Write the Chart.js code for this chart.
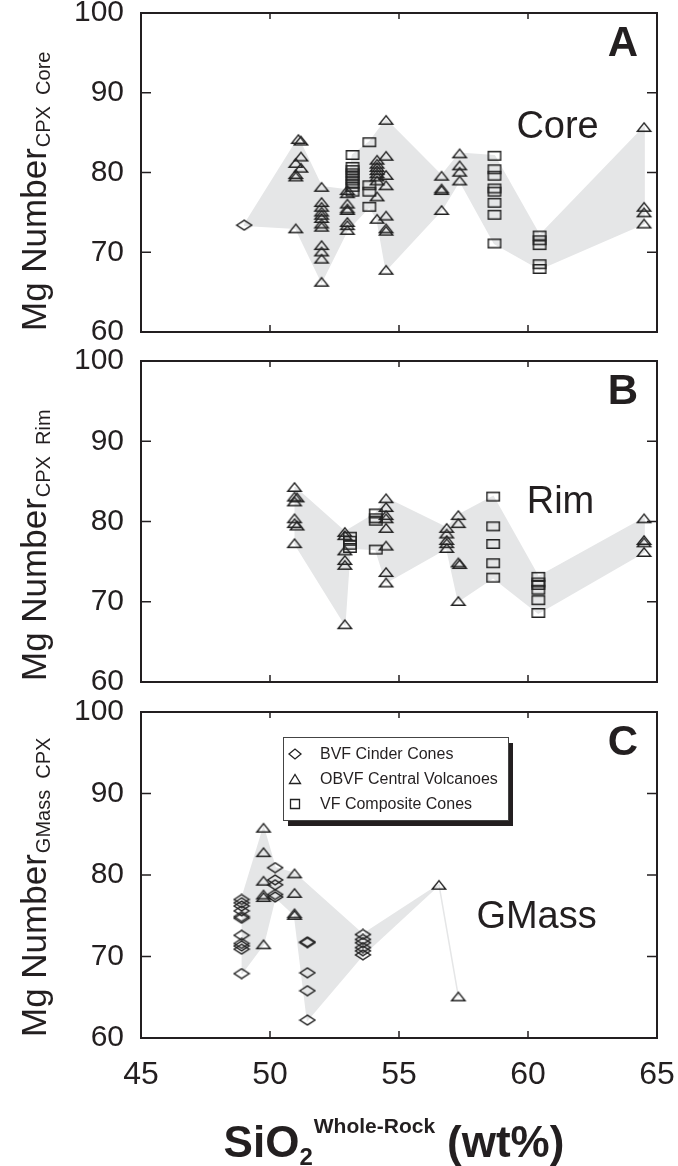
<!DOCTYPE html>
<html>
<head>
<meta charset="utf-8">
<script src="https://cdn.jsdelivr.net/npm/chart.js@4.4.0/dist/chart.umd.min.js"></script>
<style>
  html, body { margin: 0; padding: 0; background: #fff; }
  #wrap { position: relative; width: 678px; height: 1166px; }
  canvas { position: absolute; left: 0; }
</style>
</head>
<body>
<div id="wrap">
  <canvas id="cvA" width="678" height="347" style="top:0px"></canvas>
  <canvas id="cvB" width="678" height="350" style="top:347px"></canvas>
  <canvas id="cvC" width="678" height="469" style="top:697px"></canvas>
</div>
<script>
// ---- data (x = SiO2 wt%, y = Mg number) ----
var seriesLabels = ['BVF Cinder Cones', 'OBVF Central Volcanoes', 'VF Composite Cones'];
var xTicks = [45, 50, 55, 60, 65];
var yTicks = [60, 70, 80, 90, 100];

// panel A, core
var coreBVF = [[49.0, 73.4]];
var coreOBVF = [
  [51.1, 84.2], [51.2, 84.0], [51.2, 82.0], [51.0, 81.2], [51.2, 80.6], [51.0, 79.8], [51.0, 79.5], [51.0, 73.0],
  [52.0, 78.2], [52.0, 76.3], [52.0, 75.7], [52.0, 75.1], [52.0, 74.7], [52.0, 74.3], [52.0, 73.6], [52.0, 73.2],
  [52.0, 70.9], [52.0, 70.1], [52.0, 69.2], [52.0, 66.3],
  [53.0, 77.8], [53.0, 77.4], [53.0, 76.1], [53.0, 75.5], [53.0, 75.3], [53.0, 73.8], [53.0, 73.4], [53.0, 72.8],
  [54.15, 81.6], [54.15, 81.1], [54.15, 80.7], [54.15, 80.3], [54.15, 79.9], [54.15, 79.5], [54.15, 79.0],
  [54.15, 77.0], [54.15, 74.2],
  [54.5, 86.6], [54.5, 82.1], [54.5, 79.7], [54.5, 78.4], [54.5, 74.6], [54.5, 73.0], [54.5, 72.7], [54.5, 67.8],
  [56.65, 79.6], [56.65, 78.0], [56.65, 77.8], [56.65, 75.3],
  [57.35, 82.4], [57.35, 80.9], [57.35, 80.1], [57.35, 79.0],
  [64.5, 85.7], [64.5, 75.7], [64.5, 75.0], [64.5, 73.6]
];
var coreVF = [
  [53.2, 82.2], [53.2, 80.7], [53.2, 80.3], [53.2, 79.9], [53.2, 79.5], [53.2, 79.0], [53.2, 78.6], [53.2, 78.2], [53.2, 77.6],
  [53.85, 83.8], [53.85, 78.4], [53.85, 77.6], [53.85, 75.7],
  [58.7, 82.1], [58.7, 80.4], [58.7, 79.6], [58.7, 78.0], [58.7, 77.6], [58.7, 76.2], [58.7, 74.7], [58.7, 71.1],
  [60.45, 72.1], [60.45, 71.5], [60.45, 70.9], [60.45, 68.5], [60.45, 67.9]
];
var coreTop = [[49.0, 73.4], [51.1, 84.3], [52.0, 78.2], [53.0, 77.8], [53.2, 82.2], [53.85, 83.8], [54.5, 86.6],
  [56.65, 79.6], [57.35, 82.4], [58.7, 82.1], [60.45, 72.1], [64.5, 85.7]];
var coreBottom = [[49.0, 73.4], [51.0, 73.0], [52.0, 66.3], [53.0, 72.8], [53.85, 75.7], [54.15, 74.2], [54.5, 67.8],
  [56.65, 75.3], [57.35, 79.0], [58.7, 71.1], [60.45, 67.9], [64.5, 73.6]];

// panel B, rim
var rimBVF = [];
var rimOBVF = [
  [50.95, 84.3], [50.95, 83.1], [51.05, 83.0], [50.95, 82.5], [50.95, 80.4], [50.95, 79.8], [51.05, 79.5], [50.95, 77.3],
  [52.9, 78.7], [52.9, 78.3], [52.9, 76.4], [52.9, 75.2], [52.9, 74.6], [52.9, 67.2],
  [54.5, 82.9], [54.5, 81.8], [54.5, 80.8], [54.5, 80.4], [54.5, 79.2], [54.5, 77.0], [54.5, 73.7], [54.5, 72.4],
  [56.85, 79.2], [56.85, 78.5], [56.85, 77.7], [56.85, 77.3], [56.85, 76.7],
  [57.3, 80.8], [57.3, 79.8], [57.3, 74.9], [57.35, 74.7], [57.3, 70.1],
  [64.5, 80.4], [64.5, 77.7], [64.5, 77.4], [64.5, 76.2]
];
var rimVF = [
  [53.1, 78.1], [53.1, 77.6], [53.1, 77.1], [53.1, 76.7],
  [54.1, 81.0], [54.1, 80.4], [54.1, 80.1], [54.1, 76.5],
  [58.65, 83.1], [58.65, 79.4], [58.65, 77.2], [58.65, 74.8], [58.65, 73.0],
  [60.4, 73.1], [60.4, 72.4], [60.4, 72.1], [60.4, 71.5], [60.4, 70.2], [60.4, 68.6]
];
var rimTop = [[50.95, 84.3], [52.9, 78.7], [54.1, 81.0], [54.5, 82.9], [56.85, 79.2], [57.3, 80.8], [58.65, 83.1],
  [60.4, 73.1], [64.5, 80.4]];
var rimBottom = [[50.95, 77.3], [52.9, 67.2], [53.1, 76.7], [54.1, 76.5], [54.5, 72.4], [56.85, 76.7], [57.3, 70.1],
  [58.65, 73.0], [60.4, 68.6], [64.5, 76.2]];

// panel C, groundmass
var gmBVF = [
  [48.9, 77.0], [48.9, 76.6], [48.9, 76.2], [48.9, 75.6], [48.9, 74.9], [48.9, 74.7], [48.9, 72.6], [48.9, 71.6],
  [48.9, 71.3], [48.9, 70.9], [48.9, 67.9],
  [50.2, 80.9], [50.2, 79.4], [50.2, 78.8], [50.2, 77.6], [50.2, 77.3],
  [51.45, 71.8], [51.45, 71.7], [51.45, 68.0], [51.45, 65.8], [51.45, 62.2],
  [53.6, 72.7], [53.6, 72.1], [53.6, 71.7], [53.6, 71.1], [53.6, 70.7], [53.6, 70.2]
];
var gmOBVF = [
  [49.75, 85.8], [49.75, 82.8], [49.75, 79.3], [49.75, 77.6], [49.75, 77.3], [49.75, 71.5],
  [50.95, 80.2], [50.95, 77.8], [50.95, 75.3], [50.95, 75.1],
  [56.55, 78.8], [57.3, 65.1]
];
var gmVF = [];
var gmTop = [[48.9, 77.0], [49.75, 85.8], [50.2, 80.9], [50.95, 80.2], [53.6, 72.7], [56.55, 78.8], [57.3, 65.1]];
var gmBottom = [[48.9, 67.9], [49.75, 71.5], [50.2, 77.3], [50.95, 75.1], [51.45, 62.2], [53.6, 70.2],
  [56.55, 78.8], [57.3, 65.1]];

// ---- styling ----
var FONT = '"Liberation Sans", Arial, Helvetica, sans-serif';
var INK = '#231f20';
var SHADE = '#e5e6e7';

function toXY(arr) {
  return arr.map(function (p) { return { x: p[0], y: p[1] }; });
}

// open markers as small canvases (flattened like the original)
function shapePath(g, kind, cx, cy, s) {
  g.beginPath();
  if (kind === 'diamond') {
    g.moveTo(cx - 7.5 * s, cy); g.lineTo(cx, cy - 4.8 * s); g.lineTo(cx + 7.5 * s, cy); g.lineTo(cx, cy + 4.8 * s);
  } else if (kind === 'triangle') {
    g.moveTo(cx - 6.7 * s, cy + 4.2 * s); g.lineTo(cx, cy - 4.2 * s); g.lineTo(cx + 6.7 * s, cy + 4.2 * s);
  } else {
    g.rect(cx - 6.2 * s, cy - 4.2 * s, 12.4 * s, 8.4 * s);
  }
  g.closePath();
}
function makeMarker(kind) {
  var c = document.createElement('canvas');
  c.width = 18; c.height = 12;
  var g = c.getContext('2d');
  g.strokeStyle = '#222';
  g.lineWidth = 1.4;
  shapePath(g, kind, 9, 6, 1);
  g.stroke();
  return c;
}
var markerKinds = ['diamond', 'triangle', 'square'];
var markers = markerKinds.map(makeMarker);

function makePanel(id, cfg) {
  var deco = {
    id: 'deco',
    afterDatasetsDraw: function (chart) {
      var ctx = chart.ctx, a = chart.chartArea;
      var xs = chart.scales.x, ys = chart.scales.y;
      ctx.save();
      // frame with inward ticks
      ctx.strokeStyle = INK;
      ctx.lineWidth = 2;
      ctx.strokeRect(a.left, a.top, a.right - a.left, a.bottom - a.top);
      ctx.lineWidth = 1.5;
      ctx.beginPath();
      xs.ticks.forEach(function (t) {
        var px = xs.getPixelForValue(t.value);
        ctx.moveTo(px, a.top); ctx.lineTo(px, a.top + 6);
        ctx.moveTo(px, a.bottom); ctx.lineTo(px, a.bottom - 7);
      });
      ys.ticks.forEach(function (t) {
        var py = ys.getPixelForValue(t.value);
        ctx.moveTo(a.left, py); ctx.lineTo(a.left + 10, py);
        ctx.moveTo(a.right, py); ctx.lineTo(a.right - 10, py);
      });
      ctx.stroke();

      ctx.fillStyle = INK;
      // panel letter
      ctx.font = 'bold 42px ' + FONT;
      ctx.textAlign = 'right';
      ctx.textBaseline = 'alphabetic';
      ctx.fillText(cfg.letter, a.right - 19, a.top + 43);
      // panel name
      ctx.font = '38px ' + FONT;
      ctx.textAlign = 'left';
      ctx.fillText(cfg.name, xs.getPixelForValue(cfg.namePos[0]), ys.getPixelForValue(cfg.namePos[1]));

      // y title with subscript, rotated
      ctx.save();
      ctx.translate(46, a.bottom - 1);
      ctx.rotate(-Math.PI / 2);
      ctx.font = '35px ' + FONT;
      ctx.fillText('Mg Number', 0, 0);
      var w = ctx.measureText('Mg Number').width;
      ctx.font = '20px ' + FONT;
      ctx.fillText(cfg.sub, w + 1, 4);
      ctx.restore();

      if (cfg.legend) drawLegend(ctx, a);
      if (cfg.xTitle) drawXTitle(ctx, a);
      ctx.restore();
    }
  };

  var datasets = cfg.series.map(function (s, i) {
    return {
      label: seriesLabels[i],
      data: toXY(s),
      pointStyle: markers[i],
      pointRadius: 4,
      showLine: false
    };
  });
  // shaded envelope drawn underneath everything (last dataset)
  datasets.push({
    type: 'line',
    label: 'envelope',
    data: toXY(cfg.top.concat(cfg.bottom.slice().reverse())),
    fill: 'shape',
    backgroundColor: SHADE,
    borderColor: SHADE,
    borderWidth: 1.5,
    pointRadius: 0,
    tension: 0
  });

  return new Chart(document.getElementById(id), {
    type: 'scatter',
    data: { datasets: datasets },
    options: {
      responsive: false,
      animation: false,
      events: [],
      layout: { padding: { top: cfg.padTop, right: 21, left: 0, bottom: 0 } },
      plugins: { legend: { display: false }, tooltip: { enabled: false } },
      scales: {
        x: {
          type: 'linear', min: 45, max: 65,
          afterBuildTicks: function (s) { s.ticks = xTicks.map(function (v) { return { value: v }; }); },
          ticks: { display: cfg.showX, color: INK, padding: 18, font: { size: 32, family: FONT } },
          grid: { display: false, drawTicks: false }, border: { display: false },
          afterFit: function (s) { s.height = cfg.xHeight; s.paddingLeft = 0; s.paddingRight = 0; }
        },
        y: {
          type: 'linear', min: 60, max: 100,
          afterBuildTicks: function (s) { s.ticks = yTicks.map(function (v) { return { value: v }; }); },
          ticks: { color: INK, padding: 17, font: { size: 30, family: FONT } },
          grid: { display: false, drawTicks: false }, border: { display: false },
          afterFit: function (s) { s.width = 141; s.paddingTop = 0; s.paddingBottom = 0; }
        }
      }
    },
    plugins: [deco]
  });
}

function drawLegend(ctx, a) {
  var bx = a.left + 142, by = a.top + 25, bw = 225, bh = 83;
  ctx.fillStyle = INK;
  ctx.fillRect(bx + 5, by + 6, bw, bh);
  ctx.fillStyle = '#fff';
  ctx.fillRect(bx, by, bw, bh);
  ctx.strokeStyle = '#444';
  ctx.lineWidth = 1;
  ctx.strokeRect(bx + 0.5, by + 0.5, bw, bh);
  ctx.font = '16px ' + FONT;
  ctx.textAlign = 'left';
  ctx.textBaseline = 'middle';
  seriesLabels.forEach(function (lab, i) {
    var ry = by + 17 + i * 25;
    ctx.strokeStyle = '#222';
    ctx.lineWidth = 1.3;
    var k = markerKinds[i];
    if (k === 'square') {
      ctx.beginPath(); ctx.rect(bx + 7.5, ry - 4.5, 9, 9);
    } else if (k === 'triangle') {
      ctx.beginPath(); ctx.moveTo(bx + 6.5, ry + 4.5); ctx.lineTo(bx + 12, ry - 4.5); ctx.lineTo(bx + 17.5, ry + 4.5); ctx.closePath();
    } else {
      ctx.beginPath(); ctx.moveTo(bx + 6, ry); ctx.lineTo(bx + 12, ry - 5); ctx.lineTo(bx + 18, ry); ctx.lineTo(bx + 12, ry + 5); ctx.closePath();
    }
    ctx.stroke();
    ctx.fillStyle = INK;
    ctx.fillText(lab, bx + 37, ry + 1);
  });
  ctx.textBaseline = 'alphabetic';
}

function drawXTitle(ctx, a) {
  var base = a.bottom + 119;
  var parts = [
    { t: 'SiO', f: 'bold 44px ', dy: 0, gap: 0 },
    { t: '2', f: 'bold 24px ', dy: 8, gap: 0 },
    { t: 'Whole-Rock', f: 'bold 21px ', dy: -24, gap: 1 },
    { t: '(wt%)', f: 'bold 44px ', dy: 0, gap: 12 }
  ];
  var total = 0;
  parts.forEach(function (p) { ctx.font = p.f + FONT; p.w = ctx.measureText(p.t).width; total += p.w + p.gap; });
  var x = 394 - total / 2;
  ctx.fillStyle = INK;
  ctx.textAlign = 'left';
  parts.forEach(function (p) {
    ctx.font = p.f + FONT;
    x += p.gap;
    ctx.fillText(p.t, x, base + p.dy);
    x += p.w;
  });
}

makePanel('cvA', {
  series: [coreBVF, coreOBVF, coreVF], top: coreTop, bottom: coreBottom,
  letter: 'A', name: 'Core', namePos: [59.55, 84.3], sub: 'CPX  Core',
  padTop: 13, xHeight: 15, showX: false
});
makePanel('cvB', {
  series: [rimBVF, rimOBVF, rimVF], top: rimTop, bottom: rimBottom,
  letter: 'B', name: 'Rim', namePos: [59.95, 81.0], sub: 'CPX  Rim',
  padTop: 14, xHeight: 15, showX: false
});
makePanel('cvC', {
  series: [gmBVF, gmOBVF, gmVF], top: gmTop, bottom: gmBottom,
  letter: 'C', name: 'GMass', namePos: [58.0, 73.5], sub: 'GMass  CPX',
  padTop: 15, xHeight: 128, showX: true, legend: true, xTitle: true
});
</script>
</body>
</html>
